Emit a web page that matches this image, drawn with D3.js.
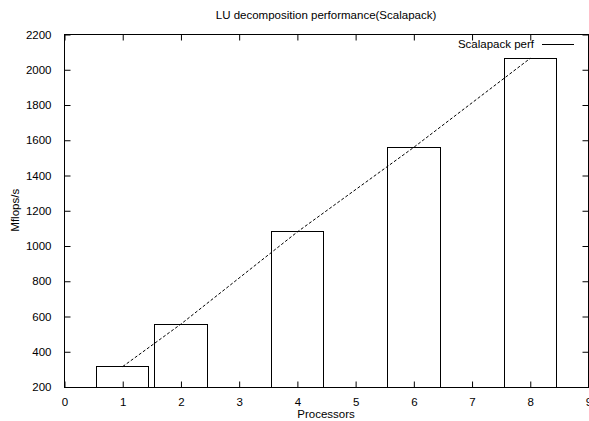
<!DOCTYPE html>
<html>
<head>
<meta charset="utf-8">
<script src="https://cdn.jsdelivr.net/npm/d3@7"></script>
<style>
  body { margin: 0; background: #fff; }
  text { font-family: "Liberation Sans", Arial, sans-serif; font-size: 11.5px; fill: #000; }
</style>
</head>
<body>
<div id="chart"></div>
<script>
const processors = [1, 2, 4, 6, 8]
const mflops = [316, 557, 1080, 1560, 2065]
const xTicks = [0, 1, 2, 3, 4, 5, 6, 7, 8, 9]
const yTicks = [200, 400, 600, 800, 1000, 1200, 1400, 1600, 1800, 2000, 2200]
const boxWidth = 0.9

var fullWidth = 589;
var fullHeight = 421;
var margin = {top: 34, right: 1, bottom: 34.5, left: 64};
var width = fullWidth - margin.left - margin.right;
var height = fullHeight - margin.top - margin.bottom;

var x = d3.scaleLinear().domain([0, 9]).range([0, width]);
var y = d3.scaleLinear().domain([200, 2200]).range([height, 0]);

var data = processors.map(function(p, i) { return {p: p, v: mflops[i]}; });

var root = d3.select("#chart").append("svg")
  .attr("width", fullWidth)
  .attr("height", fullHeight);

var svg = root.append("g")
  .attr("transform", "translate(" + (margin.left + 0.5) + "," + (margin.top + 0.5) + ")");

// title
root.append("text")
  .attr("x", margin.left + width / 2)
  .attr("y", 19)
  .attr("text-anchor", "middle")
  .text("LU decomposition performance(Scalapack)");

// boxes
svg.selectAll(".bar").data(data)
  .enter().append("rect")
    .attr("class", "bar")
    .attr("x", function(d) { return Math.round(x(d.p - boxWidth / 2)); })
    .attr("y", function(d) { return Math.round(y(d.v)); })
    .attr("width", function(d) { return Math.round(x(d.p + boxWidth / 2)) - Math.round(x(d.p - boxWidth / 2)); })
    .attr("height", function(d) { return Math.round(height) - Math.round(y(d.v)); })
    .attr("fill", "none")
    .attr("stroke", "#000")
    .attr("stroke-width", 1);

// dashed line through bar tops
var line = d3.line()
  .x(function(d) { return x(d.p); })
  .y(function(d) { return y(d.v); });

svg.append("path")
  .datum(data)
  .attr("d", line)
  .attr("fill", "none")
  .attr("stroke", "#000")
  .attr("stroke-width", 1)
  .attr("stroke-dasharray", "3,2");

// axes, ticks inside and mirrored
var tickLen = 6;
svg.append("g")
  .attr("transform", "translate(0," + Math.round(height) + ")")
  .call(d3.axisBottom(x).tickValues(xTicks).tickFormat(d3.format("d")).tickSizeInner(-tickLen).tickSizeOuter(0).tickPadding(10))
  .call(function(g) { g.select(".domain").remove(); });

svg.append("g")
  .call(d3.axisLeft(y).tickValues(yTicks).tickFormat(d3.format("d")).tickSizeInner(-tickLen).tickSizeOuter(0).tickPadding(13))
  .call(function(g) { g.select(".domain").remove(); });

svg.append("g")
  .call(d3.axisTop(x).tickValues(xTicks).tickFormat("").tickSizeInner(-tickLen).tickSizeOuter(0))
  .call(function(g) { g.select(".domain").remove(); });

svg.append("g")
  .attr("transform", "translate(" + Math.round(width) + ",0)")
  .call(d3.axisRight(y).tickValues(yTicks).tickFormat("").tickSizeInner(-tickLen).tickSizeOuter(0))
  .call(function(g) { g.select(".domain").remove(); });

svg.selectAll(".tick text")
  .style("font-family", "'Liberation Sans', Arial, sans-serif")
  .style("font-size", "11.5px")
  .attr("fill", "#000");

// frame
svg.append("rect")
  .attr("x", 0)
  .attr("y", 0)
  .attr("width", Math.round(width))
  .attr("height", Math.round(height))
  .attr("fill", "none")
  .attr("stroke", "#000")
  .attr("stroke-width", 1);

// axis labels
root.append("text")
  .attr("x", margin.left + width / 2)
  .attr("y", 418)
  .attr("text-anchor", "middle")
  .text("Processors");

root.append("text")
  .attr("text-anchor", "middle")
  .attr("transform", "translate(19," + (margin.top + height / 2) + ") rotate(-90)")
  .text("Mflops/s");

// legend
var legend = root.append("g");
legend.append("text")
  .attr("x", 534)
  .attr("y", 48)
  .attr("text-anchor", "end")
  .text("Scalapack perf");
legend.append("line")
  .attr("x1", 542)
  .attr("x2", 574)
  .attr("y1", 44.5)
  .attr("y2", 44.5)
  .attr("stroke", "#000")
  .attr("stroke-width", 1);
</script>
</body>
</html>
